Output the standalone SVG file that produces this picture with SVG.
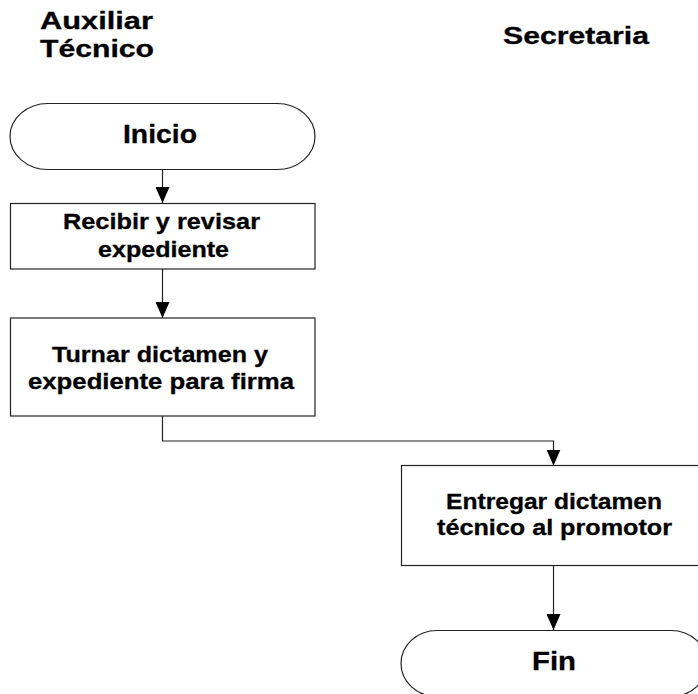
<svg xmlns="http://www.w3.org/2000/svg" width="698" height="694" viewBox="0 0 698 694">
<style>
.shape{fill:#fff;stroke:#222;stroke-width:1.2}
.conn{fill:none;stroke:#222;stroke-width:1.2}
text{font-family:"Liberation Sans",Arial,sans-serif;font-weight:bold;fill:#000;stroke:#000;stroke-width:0.3}
.hd{font-size:23px}
.body{font-size:22px;text-anchor:middle}
.term{font-size:25px;text-anchor:middle}
</style>
<defs>
<marker id="arr" viewBox="0 0 16 14" refX="16" refY="7" markerWidth="16" markerHeight="14" markerUnits="userSpaceOnUse" orient="auto">
<path d="M0,0 L16,7 L0,14 Z" fill="#000"/>
</marker>
</defs>
<rect width="698" height="694" fill="#fff"/>
<g id="lane-aux">
<text class="hd" x="40" y="29" textLength="113" lengthAdjust="spacingAndGlyphs">Auxiliar</text>
<text class="hd" x="40" y="57" textLength="114" lengthAdjust="spacingAndGlyphs">Técnico</text>
</g>
<g id="lane-sec">
<text class="hd" x="503" y="44" textLength="146" lengthAdjust="spacingAndGlyphs">Secretaria</text>
</g>
<g id="connectors">
<line class="conn" x1="162.5" y1="169" x2="162.5" y2="203" marker-end="url(#arr)"/>
<line class="conn" x1="162.5" y1="269" x2="162.5" y2="318" marker-end="url(#arr)"/>
<polyline class="conn" points="162.5,416 162.5,441 553.5,441 553.5,465.5" marker-end="url(#arr)"/>
<line class="conn" x1="553.5" y1="566" x2="553.5" y2="630" marker-end="url(#arr)"/>
</g>
<g id="inicio">
<path class="shape" d="M48,103.5 H277 A38,33 0 0 1 277,169.5 H48 A38,33 0 0 1 48,103.5 Z"/>
<text class="term" x="160" y="143" textLength="74" lengthAdjust="spacingAndGlyphs">Inicio</text>
</g>
<g id="recibir">
<rect class="shape" x="10.5" y="203.5" width="304.5" height="65.5"/>
<text class="body" x="161.5" y="228.5" textLength="197" lengthAdjust="spacingAndGlyphs">Recibir y revisar</text>
<text class="body" x="163.5" y="256.5" textLength="131" lengthAdjust="spacingAndGlyphs">expediente</text>
</g>
<g id="turnar">
<rect class="shape" x="10.5" y="318" width="304.5" height="98"/>
<text class="body" x="160" y="361.5" textLength="216" lengthAdjust="spacingAndGlyphs">Turnar dictamen y</text>
<text class="body" x="161" y="389" textLength="266" lengthAdjust="spacingAndGlyphs">expediente para firma</text>
</g>
<g id="entregar">
<rect class="shape" x="401.5" y="465.5" width="305" height="100"/>
<text class="body" x="554" y="509" textLength="216" lengthAdjust="spacingAndGlyphs">Entregar dictamen</text>
<text class="body" x="554.5" y="534.5" textLength="235" lengthAdjust="spacingAndGlyphs">técnico al promotor</text>
</g>
<g id="fin">
<path class="shape" d="M437,630.5 H671 A36,33 0 0 1 671,696.5 H437 A36,33 0 0 1 437,630.5 Z"/>
<text class="term" x="554" y="670" textLength="44" lengthAdjust="spacingAndGlyphs">Fin</text>
</g>
</svg>
